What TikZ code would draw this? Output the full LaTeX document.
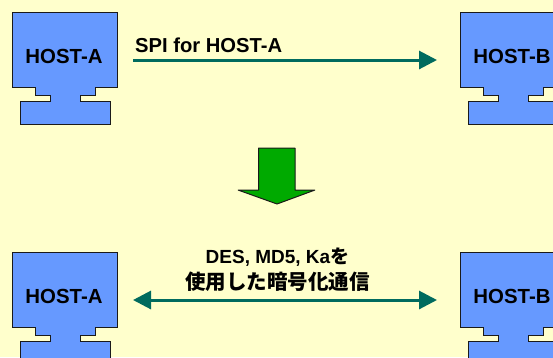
\documentclass[tikz,border=0pt]{standalone}
\usepackage{fontspec}
\setmainfont{Liberation Sans}
\newfontfamily\cjk{Noto Sans CJK JP Bold}
\usetikzlibrary{arrows.meta}
\definecolor{bgc}{HTML}{FFFFCC}
\definecolor{hostc}{HTML}{6699FF}
\definecolor{linkc}{HTML}{006B5E}
\definecolor{greenc}{HTML}{00AA00}
\definecolor{edgec}{HTML}{1A1A1A}
\tikzset{
  x=1pt,y=-1pt,
  hostshape/.style={draw=edgec,fill=hostc,line width=1pt,line join=miter},
  hostlabel/.style={font=\bfseries\fontsize{20.4}{20}\selectfont,text=black,inner sep=0pt,anchor=center},
  caption/.style={font=\bfseries\fontsize{20.2}{26}\selectfont,text=black,inner sep=0pt,align=center},
  linkline/.style={draw=linkc,line width=3pt},
  linkhead/.style={-{Triangle[length=18pt,width=18pt]}},
  linkboth/.style={{Triangle[length=18pt,width=18pt]}-{Triangle[length=18pt,width=18pt]}},
}
\newcommand{\hostbody}[2]{%
  \path[hostshape,shift={(#1,#2)}]
    (12.5,12.5) -- (117.5,12.5) -- (117.5,87) -- (95,87) -- (95,95) -- (80,95)
    -- (80,101.5) -- (110,101.5) -- (110,124.5) -- (20,124.5) -- (20,101.5)
    -- (50.5,101.5) -- (50.5,95) -- (35,95) -- (35,87) -- (12.5,87) -- cycle;}
\begin{document}
\begin{tikzpicture}
\useasboundingbox (0,0) rectangle (553,357);
\clip (0,0) rectangle (553,357);
\fill[bgc] (0,0) rectangle (553,357);
\hostbody{0}{0}
\hostbody{448}{0}
\hostbody{0}{240}
\hostbody{448}{240}
\node[hostlabel] (hostA1) at (64,56) {HOST-A};
\node[hostlabel] (hostB1) at (512,56) {HOST-B};
\node[hostlabel] (hostA2) at (64,296) {HOST-A};
\node[hostlabel] (hostB2) at (512,296) {HOST-B};
\coordinate (a1) at (133,60);
\coordinate (b1) at (437,60);
\coordinate (a2) at (133,300);
\coordinate (b2) at (437,300);
\draw[linkline,linkhead] (a1) -- (b1);
\draw[linkline,linkboth] (a2) -- (b2);
\node[caption,anchor=west] (spi) at (135,45) {SPI for HOST-A};
\node[caption] (des) at (277.5,270) {{\fontsize{19}{26}\selectfont DES, MD5, Ka{\cjk を}}\\{\cjk\fontsize{20.5}{26}\selectfont 使用した暗号化通信}};
\path[draw=edgec,fill=greenc,line width=1pt,line join=bevel]
  (258.5,148) -- (295,148) -- (295,190) -- (315,190) -- (277,204) -- (238,190) -- (258.5,190) -- cycle;
\end{tikzpicture}
\end{document}
